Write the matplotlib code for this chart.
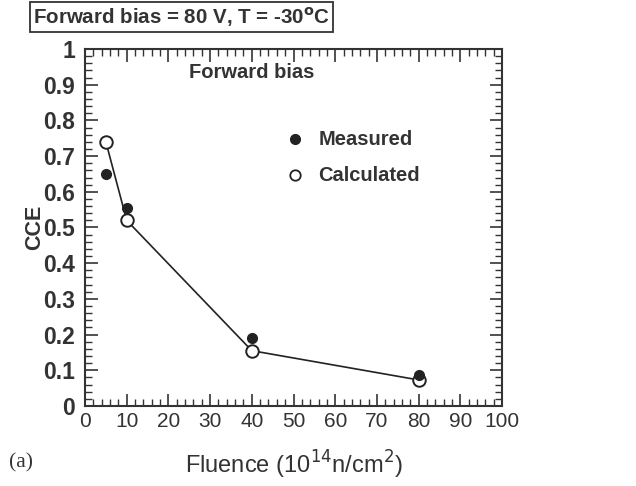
import matplotlib
matplotlib.use("Agg")
import matplotlib.pyplot as plt
from matplotlib.ticker import MultipleLocator

# Charge collection efficiency vs. fluence
fluence_measured = [5, 10, 40, 80]
cce_measured = [0.65, 0.555, 0.19, 0.088]
fluence_calc = [5, 10, 40, 80]
cce_calc = [0.74, 0.52, 0.155, 0.073]

x_ticks = [0, 10, 20, 30, 40, 50, 60, 70, 80, 90, 100]
y_ticks = [0, 0.1, 0.2, 0.3, 0.4, 0.5, 0.6, 0.7, 0.8, 0.9, 1]
y_tick_labels = ["0", "0.1", "0.2", "0.3", "0.4", "0.5", "0.6", "0.7", "0.8", "0.9", "1"]

plt.rcParams['font.family'] = ['Liberation Sans', 'DejaVu Sans']
INK = "#333333"

fig = plt.figure(figsize=(6.36, 4.86), dpi=100)
ax = fig.add_axes([85 / 636, 1 - 406 / 486, (502 - 85) / 636, (406 - 49) / 486])

ax.plot(fluence_calc, cce_calc, color="#222222", lw=1.2, zorder=2)
ax.plot(fluence_calc, cce_calc, "o", mfc="white", mec="#222222", mew=1.4, ms=9, zorder=3)
ax.plot(fluence_measured, cce_measured, "o", color="#222222", ms=7, zorder=4)

ax.set_xlim(0, 100)
ax.set_ylim(0, 1)
ax.set_xticks(x_ticks)
ax.set_xticklabels([str(v) for v in x_ticks], fontsize=15, color=INK)
ax.set_yticks(y_ticks)
ax.set_yticklabels(y_tick_labels, fontsize=16.5, fontweight="bold", color=INK)
ax.xaxis.set_minor_locator(MultipleLocator(2))
ax.yaxis.set_minor_locator(MultipleLocator(0.02))
ax.tick_params(which="both", direction="in", top=True, right=True, color=INK)
ax.tick_params(which="major", length=9, width=1.2)
ax.tick_params(axis="x", which="major", pad=4)
ax.tick_params(axis="y", which="major", pad=7)
ax.tick_params(which="minor", length=5, width=1.0)
for s in ax.spines.values():
    s.set_linewidth(1.5)
    s.set_color(INK)

ax.set_ylabel("CCE", fontsize=15.5, fontweight="bold", color=INK)
ax.yaxis.set_label_coords(-0.096, 0.5)
ax.set_xlabel("Fluence (10$^{14}$n/cm$^{2}$)", fontsize=17, color=INK, labelpad=13)

ax.text(25, 0.935, "Forward bias", fontsize=14.5, fontweight="bold", color=INK, va="center")

# legend drawn inside the axes
ax.plot([50.4], [0.747], "o", color="#222222", ms=7, clip_on=False)
ax.plot([50.4], [0.646], "o", mfc="white", mec="#222222", mew=1.3, ms=7.5, clip_on=False)
ax.text(56, 0.747, "Measured", fontsize=14.5, fontweight="bold", color=INK, va="center")
ax.text(56, 0.646, "Calculated", fontsize=14.5, fontweight="bold", color=INK, va="center")

fig.text(33 / 636, 1 - 17 / 486, "Forward bias = 80 V, T = -30$^{\\mathbf{o}}$C",
         fontsize=14.8, fontweight="bold", color=INK, va="center",
         bbox=dict(boxstyle="square,pad=0.16", fc="white", ec=INK, lw=1.3))

fig.text(9 / 636, 1 - 463 / 486, "(a)", fontsize=15.5, family="Liberation Serif",
         color=INK, va="center")

fig.savefig("out.png", dpi=100)
